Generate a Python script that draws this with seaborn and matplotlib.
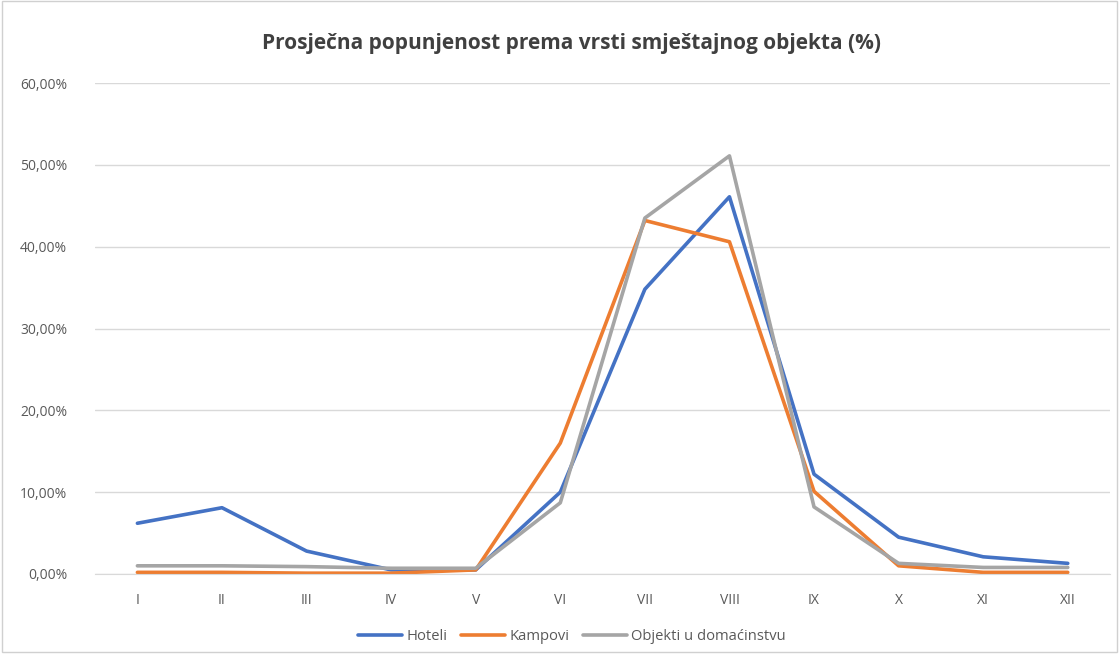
import pandas as pd
import matplotlib.pyplot as plt
import seaborn as sns
from matplotlib.patches import Rectangle
from matplotlib.ticker import FuncFormatter

# Monthly values (%)
months = ['I', 'II', 'III', 'IV', 'V', 'VI', 'VII', 'VIII', 'IX', 'X', 'XI', 'XII']
hoteli = [6.2, 8.1, 2.8, 0.5, 0.5, 10.0, 34.8, 46.1, 12.2, 4.5, 2.1, 1.3]
kampovi = [0.2, 0.2, 0.1, 0.1, 0.5, 16.0, 43.2, 40.6, 10.1, 1.0, 0.2, 0.2]
objekti = [1.0, 1.0, 0.9, 0.7, 0.7, 8.7, 43.5, 51.1, 8.2, 1.3, 0.8, 0.8]
series_names = ['Hoteli', 'Kampovi', 'Objekti u domaćinstvu']
colors = ['#4472C4', '#ED7D31', '#A5A5A5']

# Long-form table for seaborn
df = pd.DataFrame({
    'Mjesec': months * 3,
    'Popunjenost': hoteli + kampovi + objekti,
    'Vrsta': [series_names[0]] * 12 + [series_names[1]] * 12 + [series_names[2]] * 12,
})

sns.set_style('white')
plt.rcParams['font.family'] = ['Open Sans', 'DejaVu Sans']

fig = plt.figure(figsize=(11.19, 6.59), dpi=100)
ax = fig.add_axes([0.085, 0.129, 0.907, 0.745])

sns.lineplot(data=df, x='Mjesec', y='Popunjenost', hue='Vrsta',
             palette=colors, linewidth=2.6, sort=False, ax=ax, legend=False)

ax.set_xlim(-0.5, 11.5)
ax.set_ylim(0, 60)
ax.set_yticks(range(0, 61, 10))
ax.yaxis.set_major_formatter(FuncFormatter(lambda v, p: f'{v:.2f}%'.replace('.', ',')))
ax.grid(axis='y', color='#D9D9D9', linewidth=1)
ax.set_axisbelow(True)
for s in ['top', 'right', 'left']:
    ax.spines[s].set_visible(False)
ax.spines['bottom'].set_color('#D9D9D9')
ax.tick_params(axis='both', length=0, labelsize=10, colors='#595959', pad=14)
ax.tick_params(axis='y', pad=20)
ax.set_xlabel('')
ax.set_ylabel('')

fig.text(0.511, 1 - 44 / 659, 'Prosječna popunjenost prema vrsti smještajnog objekta (%)',
         ha='center', va='center', fontsize=15, fontweight='bold', color='#404040')

handles = [plt.Line2D([], [], color=c, linewidth=2.6) for c in colors]
fig.legend(handles, series_names, loc='center', bbox_to_anchor=(0.511, 1 - 637 / 659),
           ncol=3, frameon=False, fontsize=10.6, labelcolor='#595959',
           handlelength=3.0, columnspacing=0.9, handletextpad=0.3)

fig.patches.append(Rectangle((0.002, 0.01), 0.996, 0.988, transform=fig.transFigure,
                             fill=False, edgecolor='#D0D0D0', linewidth=1))

plt.savefig('out.png', dpi=100)
